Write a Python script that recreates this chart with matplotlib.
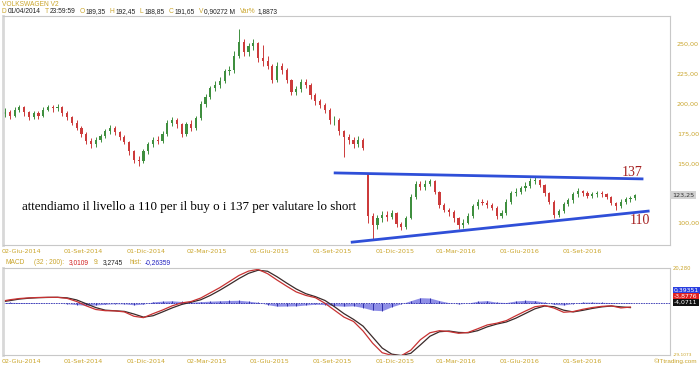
import pandas as pd
import matplotlib
matplotlib.use("Agg")
import matplotlib.pyplot as plt

W, H = 700, 365

# weekly candles (VOLKSWAGEN V2)
first_week = "2014-04-03"
opens = [190, 191, 193, 190, 195, 197, 193, 189, 192, 190, 195, 197, 196, 197, 192, 189, 184, 180, 175, 169,
         166, 170, 173, 177, 180, 176, 172, 168, 160, 153, 152, 160, 166, 170, 169, 175, 184, 186, 183, 175,
         183, 180, 188, 200, 206, 213, 216, 219, 227, 228, 240, 252, 243, 248, 251, 238, 236, 232, 220, 232,
         228, 220, 210, 212, 218, 216, 207, 202, 199, 195, 186, 186, 177, 172, 170, 166, 170, 142, 106, 98,
         104, 107, 105, 108, 99, 97, 104, 122, 133, 130, 133, 135, 126, 115, 111, 109, 104, 98, 100, 106,
         114, 118, 117, 115, 113, 106, 108, 118, 125, 126, 129, 131, 135, 136, 132, 125, 118, 107, 110, 116,
         119, 124, 127, 125, 123, 124, 125, 124, 122, 117, 114, 118, 120, 121]
closes = [191, 193, 190, 195, 197, 193, 189, 192, 190, 195, 197, 196, 197, 192, 189, 184, 180, 175, 169, 166,
          170, 173, 177, 180, 176, 172, 168, 160, 153, 152, 160, 166, 170, 169, 175, 184, 186, 183, 175, 183,
          180, 188, 200, 206, 213, 216, 219, 227, 228, 240, 252, 243, 248, 251, 238, 236, 232, 220, 232, 228,
          220, 210, 212, 218, 216, 207, 202, 199, 195, 186, 186, 177, 172, 170, 166, 170, 163, 106, 98, 104,
          107, 105, 108, 99, 97, 104, 122, 133, 130, 133, 135, 126, 115, 111, 109, 104, 98, 100, 106, 114,
          118, 117, 115, 113, 106, 108, 118, 125, 126, 129, 131, 135, 136, 132, 125, 118, 107, 110, 116, 119,
          124, 127, 125, 123, 124, 125, 124, 122, 117, 114, 118, 120, 121, 123.25]
highs = [194, 196, 195, 197, 199, 198, 194, 194, 194, 197, 199, 199, 200, 198, 194, 190, 186, 181, 176, 171,
         172, 175, 179, 182, 181, 177, 174, 169, 161, 156, 162, 168, 172, 173, 177, 186, 189, 188, 184, 185,
         186, 190, 202, 208, 215, 219, 222, 229, 232, 244, 263, 254, 251, 254, 252, 249, 240, 233, 235, 234,
         230, 221, 215, 221, 221, 217, 209, 204, 201, 196, 190, 188, 178, 175, 172, 173, 171, 142, 108, 107,
         110, 110, 111, 109, 101, 106, 124, 135, 135, 136, 137, 136, 127, 117, 113, 111, 105, 103, 108, 116,
         120, 120, 119, 117, 114, 111, 120, 127, 129, 131, 134, 138, 139, 137, 133, 126, 119, 112, 118, 121,
         126, 129, 128, 127, 126, 127, 127, 125, 123, 118, 120, 122, 123, 124]
lows = [188, 189, 187, 189, 193, 190, 186, 187, 187, 189, 194, 193, 194, 190, 186, 182, 178, 172, 166, 163,
        164, 168, 171, 175, 174, 170, 166, 157, 150, 148, 150, 158, 164, 166, 167, 173, 181, 180, 172, 173,
        177, 178, 186, 197, 204, 211, 213, 217, 224, 226, 238, 240, 240, 245, 235, 232, 229, 217, 218, 225,
        217, 207, 207, 210, 213, 204, 199, 196, 192, 183, 182, 174, 155, 166, 163, 164, 161, 100, 87, 95,
        101, 102, 103, 97, 94, 95, 103, 120, 128, 128, 131, 124, 113, 109, 106, 101, 95, 96, 99, 104,
        112, 115, 113, 111, 103, 104, 107, 116, 123, 124, 127, 129, 133, 130, 123, 116, 104, 105, 108, 114,
        117, 122, 123, 121, 121, 122, 122, 120, 115, 111, 113, 116, 118, 119]
last_price = 123.25

# MACD (32 ; 200), one reading every two weeks
macd_start = "2014-04-03"
macd_line = [1.0, 2.0, 2.7, 3.1, 3.3, 3.4, 3.4, 2.8, 1.0, -1.5, -3.6, -4.3, -4.4, -5.0, -7.5, -8.3, -6.0, -3.9,
             -1.5, 0.2, 1.0, 3.0, 6.0, 9.0, 12.5, 16.0, 18.5, 19.5, 17.0, 13.3, 9.8, 6.5, 4.5, 3.2, 0.0, -4.0,
             -8.0, -10.5, -16.0, -23.0, -28.5, -30.0, -30.2, -27.0, -21.0, -17.0, -15.8, -16.3, -17.3, -16.8,
             -14.7, -12.5, -11.5, -10.0, -7.2, -4.5, -2.0, -1.3, -2.8, -5.2, -4.8, -3.5, -2.5, -1.8, -1.5, -2.7,
             -2.2]
signal_line = [0.7, 1.5, 2.4, 2.9, 3.2, 3.35, 3.4, 3.1, 1.9, -0.3, -2.5, -4.0, -4.35, -4.7, -6.2, -8.0, -7.2,
               -5.0, -2.7, -0.7, 0.6, 2.0, 4.5, 7.5, 10.8, 14.2, 17.2, 19.0, 18.4, 15.2, 11.6, 8.2, 5.5, 3.8,
               1.6, -2.0, -6.0, -9.3, -13.2, -19.5, -25.8, -29.3, -30.1, -28.8, -24.0, -19.0, -16.4, -16.0,
               -16.8, -17.0, -15.8, -13.6, -12.0, -10.8, -8.6, -5.9, -3.2, -1.6, -2.0, -4.0, -5.0, -4.1, -3.0,
               -2.1, -1.6, -2.1, -2.5]
macd_hist = [0.3, 0.5, 0.4, 0.3, 0.2, 0.1, 0.0, -0.3, -0.8, -1.2, -1.0, -0.6, -0.3, -0.4, -0.9, -0.5, 0.8, 1.2,
             1.4, 1.0, 0.6, 0.9, 1.2, 1.4, 1.6, 1.7, 1.2, 0.5, -0.8, -1.7, -1.6, -1.5, -1.0, -0.6, -0.8, -1.4,
             -1.7, -1.5, -2.5, -4.0, -4.3, -2.0, -0.3, 1.5, 3.2, 3.0, 1.5, 0.3, -0.4, 0.1, 1.2, 1.5, 0.6, 0.4,
             1.3, 1.7, 1.5, 0.6, -0.7, -1.0, -0.2, 0.6, 0.6, 0.5, 0.4, 0.2, 0.4]

# trend lines drawn on the chart
upper_dates = ["2015-08-07", "2016-10-30"]
upper_vals = [142, 137]
lower_dates = ["2015-09-01", "2016-11-08"]
lower_vals = [84, 110]

tick_dates = ["2014-06-02", "2014-09-01", "2014-12-01", "2015-03-02", "2015-06-01",
              "2015-09-01", "2015-12-01", "2016-03-01", "2016-06-01", "2016-09-01"]
tick_labels = ["02-Giu-2014", "01-Set-2014", "01-Dic-2014", "02-Mar-2015", "01-Giu-2015",
               "01-Set-2015", "01-Dic-2015", "01-Mar-2016", "01-Giu-2016", "01-Set-2016"]
price_ticks = [100, 150, 175, 200, 225, 250]

GOLD = "#caa52c"
GREEN = "#3f8f3f"
RED = "#cc3b3b"
FRAME = "#c8c8c8"

dates = pd.date_range(first_week, periods=len(closes), freq="7D")
macd_dates = pd.date_range(macd_start, periods=len(macd_line), freq="14D")
xlim = (pd.Timestamp("2014-04-07"), pd.Timestamp("2016-12-10"))


def fx(x):
    return x / W


def fy(y):
    return 1 - y / H


fig = plt.figure(figsize=(W / 100, H / 100), dpi=100)
ax = fig.add_axes([fx(3), fy(245), fx(667), 229 / H])
ax2 = fig.add_axes([fx(3), fy(355), fx(667), 87 / H])

# candles
cols = [GREEN if c >= o else RED for o, c in zip(opens, closes)]
ax.vlines(dates, lows, highs, colors=cols, lw=0.7)
bottoms = [min(o, c) for o, c in zip(opens, closes)]
heights = [max(abs(c - o), 0.6) for o, c in zip(opens, closes)]
ax.bar(dates, heights, bottom=bottoms, width=3.2, color=cols, linewidth=0)

ax.plot(pd.to_datetime(upper_dates), upper_vals, color="#2f4fd8", lw=2)
ax.plot(pd.to_datetime(lower_dates), lower_vals, color="#2f4fd8", lw=2)

ax.text(pd.Timestamp("2016-10-15"), 142.0, "137", color="#a52020", fontsize=10,
        family="Liberation Serif", ha="center", va="center")
ax.text(pd.Timestamp("2016-10-27"), 102.5, "110", color="#a52020", fontsize=10,
        family="Liberation Serif", ha="center", va="center")

ax.set_xlim(*xlim)
ax.set_ylim(81.6, 273.5)
ax.yaxis.tick_right()
ax.set_yticks(price_ticks)
ax.set_yticklabels([f"{v:.2f}".replace(".", ",") for v in price_ticks])
ax.set_xticks(pd.to_datetime(tick_dates))
ax.set_xticklabels(tick_labels, ha="right")
ax.tick_params(length=0, labelsize=4.6, labelcolor=GOLD, pad=3)
ax.tick_params(axis="y", pad=5)
ax.text(1.003, last_price, f"{last_price:.2f}".replace(".", ","), transform=ax.get_yaxis_transform(),
        fontsize=4.6, color="#333333", va="center", ha="left",
        bbox=dict(boxstyle="square,pad=0.25", fc="#d3d3d3", ec="none"))

# MACD panel
ax2.axhline(0, color="#3030b0", lw=0.6, ls=(0, (2, 1)))
ax2.fill_between(macd_dates, 0, macd_hist, color="#6a6ae0", alpha=0.75, lw=0)
ax2.vlines(macd_dates, 0, macd_hist, color="#2020a0", lw=0.6)
ax2.plot(macd_dates, signal_line, color="#3a2a2a", lw=0.9)
ax2.plot(macd_dates, macd_line, color="#c83232", lw=0.9)
ax2.set_xlim(*xlim)
ax2.set_ylim(-29.8, 20.28)
ax2.set_yticks([])
ax2.set_xticks(pd.to_datetime(tick_dates))
ax2.set_xticklabels(tick_labels, ha="right")
ax2.tick_params(length=0, labelsize=4.6, labelcolor=GOLD, pad=3)

for a in (ax, ax2):
    for s in a.spines.values():
        s.set_color(FRAME)
        s.set_linewidth(0.8)
    a.spines["left"].set_linewidth(2)
    a.spines["left"].set_color("#d8d8d8")

ax2.text(1.004, 1.0, "20,280", transform=ax2.transAxes, fontsize=3.8, color=GOLD, va="center")
ax2.text(1.004, 0.0, "-29,1073", transform=ax2.transAxes, fontsize=3.2, color=GOLD, va="center")
for val, fc, yy in [("0,39351", "#2a3fe0", 0.741), ("-3,8776", "#e02020", 0.672), ("-4,0711", "#111111", 0.603)]:
    ax2.text(1.006, yy, val, transform=ax2.transAxes, fontsize=4.4, color="white", va="center", ha="left",
             bbox=dict(boxstyle="square,pad=0.2", fc=fc, ec="none"))

fig.text(fx(697), fy(361), "\u00a9ITtrading.com", fontsize=4.6, color=GOLD, va="center", ha="right",
         family="Liberation Sans")

renderer = fig.canvas.get_renderer()


def seq_text(x0, y0, parts, size):
    x = x0
    for s, c, gap in parts:
        t = fig.text(fx(x), fy(y0), s, color=c, fontsize=size, va="center", ha="left",
                     family="Liberation Sans")
        x += t.get_window_extent(renderer=renderer).width + gap


fig.text(fx(2), fy(4), "VOLKSWAGEN V2", fontsize=4.8, color=GOLD, va="center", family="Liberation Sans")
seq_text(2, 11.5, [("D", GOLD, 1), ("01/04/2014", "#222222", 4), ("T", GOLD, 1), ("23:59:59", "#222222", 4),
                   ("O", GOLD, 1), ("189,35", "#222222", 4), ("H", GOLD, 1), ("192,45", "#222222", 4),
                   ("L", GOLD, 1), ("188,85", "#222222", 4), ("C", GOLD, 1), ("191,65", "#222222", 4),
                   ("V", GOLD, 1), ("0,90272 M", "#222222", 5), ("Var%", GOLD, 2), ("1,8873", "#222222", 0)],
         4.8)
seq_text(5, 263, [("MACD", GOLD, 10), ("(32 ; 200):", GOLD, 4), ("3,0109", "#d02020", 5), ("9:", GOLD, 4),
                  ("3,2745", "#222222", 6), ("hist:", GOLD, 3), ("-0,26359", "#2020c0", 0)], 4.8)

note = fig.text(fx(22), fy(207), "attendiamo il livello a 110 per il buy o i 137 per valutare lo short",
                fontsize=9, color="black", va="center", ha="left", family="Liberation Serif")
w = note.get_window_extent(renderer=renderer).width
note.set_fontsize(9 * 336 / w)

fig.savefig("out.png", dpi=100)
